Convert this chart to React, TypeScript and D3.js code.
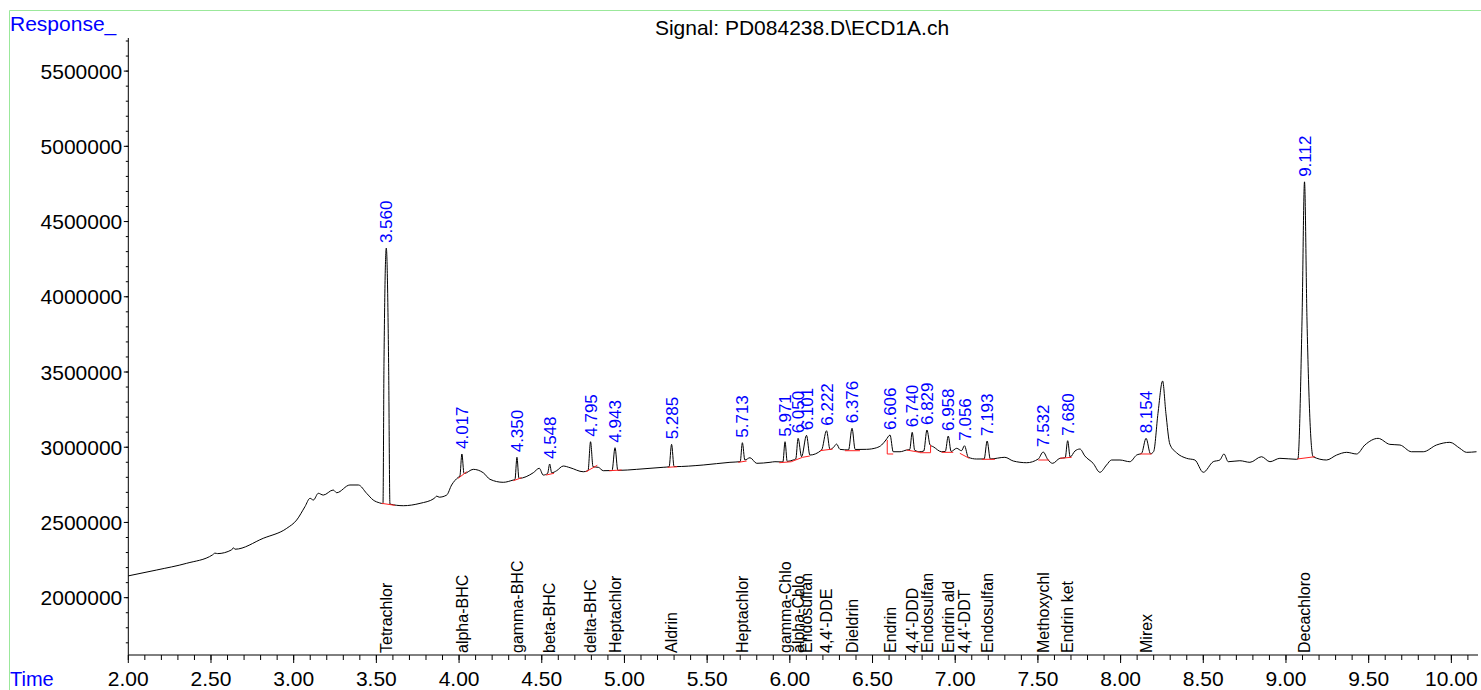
import React from "react";
import * as d3 from "d3";

// chromatogram trace, [time (min), response]
const trace: [number, number][] = [
  [2.000, 2145000], [2.172, 2184000], [2.353, 2228600], [2.510, 2285000], [2.524, 2296000], [2.540, 2293000],
  [2.625, 2318000], [2.635, 2332000], [2.645, 2322000], [2.816, 2394700], [2.958, 2461000], [3.018, 2516000],
  [3.068, 2604700], [3.099, 2660500], [3.119, 2649000], [3.149, 2693700], [3.179, 2682000], [3.239, 2715700],
  [3.260, 2697700], [3.340, 2749000], [3.391, 2749000], [3.441, 2693700], [3.481, 2649000], [3.520, 2630000],
  [3.540, 2625000], [3.546, 3557000], [3.560, 4323700], [3.574, 3557000], [3.582, 2622000], [3.663, 2611300],
  [3.764, 2627000], [3.850, 2660000], [3.865, 2675000], [3.880, 2668000], [3.925, 2682000], [3.955, 2749000],
  [3.995, 2800000], [4.005, 2808000], [4.017, 2955000], [4.030, 2825000], [4.086, 2853000], [4.146, 2830600],
  [4.187, 2786700], [4.267, 2766800], [4.328, 2782000], [4.338, 2785000], [4.350, 2933000], [4.362, 2793000],
  [4.449, 2830600], [4.485, 2860000], [4.509, 2815000], [4.535, 2825000], [4.548, 2888400], [4.560, 2830000],
  [4.590, 2844000], [4.630, 2875000], [4.671, 2864000], [4.751, 2837000], [4.780, 2845000], [4.795, 3036600],
  [4.810, 2870000], [4.842, 2866500], [4.872, 2844000], [4.925, 2845000], [4.943, 2996800], [4.960, 2846000],
  [5.074, 2853000], [5.234, 2866500], [5.270, 2870000], [5.285, 3019000], [5.300, 2871000], [5.476, 2881800],
  [5.638, 2899700], [5.700, 2904000], [5.713, 3030000], [5.728, 2915000], [5.759, 2930300], [5.800, 2893000],
  [5.880, 2899700], [5.910, 2903700], [5.958, 2902000], [5.971, 3036600], [5.984, 2906000], [6.020, 2915000],
  [6.036, 2922000], [6.050, 3059000], [6.071, 2937000], [6.101, 3079000], [6.121, 2948000], [6.192, 2981500],
  [6.222, 3109700], [6.243, 2985000], [6.262, 2996800], [6.283, 3021000], [6.303, 2986000], [6.355, 2982000],
  [6.376, 3125700], [6.395, 2985000], [6.464, 2986000], [6.525, 2996800], [6.555, 3014700], [6.581, 3048000],
  [6.606, 3081000], [6.625, 2970000], [6.666, 2970000], [6.706, 2981500], [6.725, 2985000], [6.740, 3099000],
  [6.755, 2980000], [6.786, 2970000], [6.810, 2975000], [6.829, 3114400], [6.848, 3014700], [6.867, 3003400],
  [6.918, 2970000], [6.940, 2972000], [6.958, 3074500], [6.975, 2972000], [7.009, 2992800], [7.038, 2976800],
  [7.056, 3010000], [7.079, 2933000], [7.129, 2921700], [7.175, 2922000], [7.193, 3041300], [7.212, 2922000],
  [7.300, 2933000], [7.351, 2908400], [7.432, 2897000], [7.502, 2921700], [7.532, 2968000], [7.560, 2918000],
  [7.589, 2893000], [7.633, 2926300], [7.665, 2930000], [7.680, 3043300], [7.695, 2935000], [7.724, 2974800],
  [7.754, 2988000], [7.784, 2941600], [7.834, 2893000], [7.875, 2833300], [7.915, 2881800], [7.945, 2915000],
  [7.996, 2915000], [8.056, 2903700], [8.097, 2948000], [8.127, 2959600], [8.154, 3059000], [8.181, 2956000],
  [8.200, 2972000], [8.226, 3225000], [8.254, 3440000], [8.274, 3225000], [8.298, 3020000], [8.338, 2963500],
  [8.399, 2926300], [8.449, 2915000], [8.500, 2833300], [8.560, 2903700], [8.600, 2915000], [8.625, 2955000],
  [8.651, 2903700], [8.721, 2910300], [8.782, 2899700], [8.852, 2937000], [8.903, 2903700], [8.963, 2926300],
  [9.064, 2919700], [9.072, 2922000], [9.097, 3845000], [9.112, 4764000], [9.127, 3845000], [9.164, 2937000],
  [9.245, 2915000], [9.306, 2948000], [9.367, 2966000], [9.427, 2955000], [9.477, 3014700], [9.557, 3059000],
  [9.628, 3019000], [9.689, 3014700], [9.759, 2970000], [9.830, 2970000], [9.910, 3014700], [9.991, 3032600],
  [10.051, 2992800], [10.092, 2966000], [10.152, 2970000],
];

// integrated peaks: retention time, apex response, compound name
const peakTimes = [3.560, 4.017, 4.350, 4.548, 4.795, 4.943, 5.285, 5.713, 5.971, 6.050, 6.101, 6.222,
  6.376, 6.606, 6.740, 6.829, 6.958, 7.056, 7.193, 7.532, 7.680, 8.154, 9.112];
const peakApex = [4323700, 2955000, 2933000, 2888400, 3036600, 2996800, 3019000, 3030000, 3036600, 3059000,
  3079000, 3109700, 3125700, 3081000, 3099000, 3114400, 3074500, 3010000, 3041300, 2968000, 3043300, 3059000, 4764000];
const compounds = ["Tetrachlor", "alpha-BHC", "gamma-BHC", "beta-BHC", "delta-BHC", "Heptachlor", "Aldrin",
  "Heptachlor", "gamma-Chlo", "alpha-Chlo", "Endosulfan", "4,4'-DDE", "Dieldrin", "Endrin", "4,4'-DDD",
  "Endosulfan", "Endrin ald", "4,4'-DDT", "Endosulfan", "Methoxychl", "Endrin ket", "Mirex", "Decachloro"];

// integration baselines (red)
const baselines: [number, number][][] = [
  [[3.532, 2627000], [3.612, 2614000]],
  [[3.995, 2793400], [4.046, 2837000]],
  [[4.328, 2777500], [4.378, 2797000]],
  [[4.525, 2815000], [4.574, 2826600]],
  [[4.767, 2837000], [4.836, 2880000]],
  [[4.908, 2844000], [4.983, 2848600]],
  [[5.261, 2866500], [5.319, 2870500]],
  [[5.688, 2899700], [5.739, 2908400]],
  [[5.936, 2897000], [6.011, 2903700]],
  [[6.011, 2905000], [6.077, 2933000]],
  [[6.077, 2933000], [6.121, 2941600]],
  [[6.182, 2976800], [6.259, 2988000]],
  [[6.333, 2976800], [6.424, 2976800]],
  [[6.589, 3048000], [6.589, 2955000], [6.625, 2955000]],
  [[6.706, 2981500], [6.786, 2966000]],
  [[6.786, 2963500], [6.851, 2963500], [6.851, 3014700]],
  [[6.918, 2966000], [6.988, 2966000]],
  [[7.028, 2959600], [7.085, 2926300]],
  [[7.160, 2919700], [7.240, 2919700]],
  [[7.502, 2915000], [7.568, 2915000]],
  [[7.633, 2926300], [7.704, 2933000]],
  [[8.117, 2955000], [8.187, 2955000]],
  [[9.068, 2921700], [9.175, 2937000]],
];

const yMajor = d3.range(2000000, 5500001, 500000);
const yMinor = d3.range(1700000, 5700001, 100000);
const xMajor = d3.range(2, 10.01, 0.5);
const xMinor = d3.range(2, 10.151, 0.1);

const W = 1481, H = 690;
const FONT = "'Liberation Sans', Arial, sans-serif";

const App = () => {
  const x = d3.scaleLinear().domain([2, 10.155]).range([128.3, 1477]);
  const y = d3.scaleLinear().domain([1619000, 5720000]).range([655, 38]);
  const line = d3.line<[number, number]>().x(d => x(d[0])).y(d => y(d[1])).curve(d3.curveMonotoneX);
  const seg = d3.line<[number, number]>().x(d => x(d[0])).y(d => y(d[1]));
  const x0 = x.range()[0];
  const axisY = 655;

  return (
    <svg width={W} height={H} style={{ position: "absolute", left: 0, top: 0, background: "#fff" }} fontFamily={FONT}>
      {/* frame */}
      <line x1={9.5} x2={W} y1={10.5} y2={10.5} stroke="#9be89b" />
      <line x1={9.5} x2={9.5} y1={10.5} y2={H} stroke="#9be89b" />

      <text x={10} y={31} fontSize={21} fill="#0000ff">Response_</text>
      <text x={10} y={686} fontSize={20} fill="#0000ff">Time</text>
      <text x={802} y={35} fontSize={21} textAnchor="middle" fill="#000">Signal: PD084238.D\ECD1A.ch</text>

      {/* y axis */}
      <line x1={x0} x2={x0} y1={38} y2={axisY} stroke="#000" />
      {yMinor.map(v => <line key={"ym" + v} x1={x0 - 2.5} x2={x0} y1={y(v)} y2={y(v)} stroke="#000" />)}
      {yMajor.map(v => (
        <g key={"yM" + v}>
          <line x1={x0 - 4.5} x2={x0} y1={y(v)} y2={y(v)} stroke="#000" />
          <text x={x0 - 6} y={y(v)} dy="0.36em" fontSize={21} textAnchor="end">{v}</text>
        </g>
      ))}

      {/* x axis */}
      <line x1={x0} x2={1478} y1={axisY} y2={axisY} stroke="#000" />
      {xMinor.map(t => <line key={"xm" + t} x1={x(t)} x2={x(t)} y1={axisY} y2={axisY + 5} stroke="#000" />)}
      {xMajor.map(t => (
        <g key={"xM" + t}>
          <line x1={x(t)} x2={x(t)} y1={axisY} y2={axisY + 8} stroke="#000" />
          <text x={x(t)} y={686} fontSize={21} textAnchor="middle">{t.toFixed(2)}</text>
        </g>
      ))}

      {/* signal */}
      <path d={line(trace) || ""} fill="none" stroke="#000" strokeWidth={1} />
      {baselines.map((b, i) => <path key={"b" + i} d={seg(b) || ""} fill="none" stroke="#ff2020" strokeWidth={1} />)}

      {/* retention time labels */}
      {peakTimes.map((t, i) => (
        <text key={"rt" + i} transform={`translate(${x(t)},${y(peakApex[i]) - 5}) rotate(-90)`}
          dy="0.36em" fontSize={17} fill="#0000ff">{t.toFixed(3)}</text>
      ))}

      {/* compound names */}
      {peakTimes.map((t, i) => (
        <text key={"cn" + i} transform={`translate(${x(t)},${axisY - 2}) rotate(-90)`}
          dy="0.36em" fontSize={16} fill="#000">{compounds[i]}</text>
      ))}
    </svg>
  );
};

export default App;
